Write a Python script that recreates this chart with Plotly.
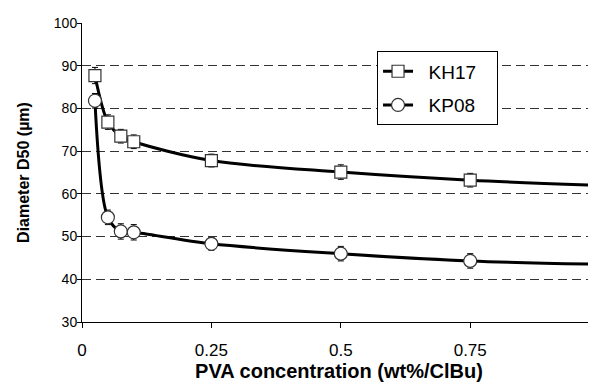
import plotly.graph_objects as go

conc = [0.025, 0.05, 0.075, 0.1, 0.25, 0.5, 0.75, 1.0]
kh17 = [87.7, 76.8, 73.5, 72.2, 67.8, 65.1, 63.2, 62.0]
kh17_err = [1.9, 1.7, 1.6, 1.6, 1.5, 1.7, 1.6, 1.5]
kp08 = [81.8, 54.5, 51.2, 51.0, 48.3, 46.0, 44.3, 43.5]
kp08_err = [1.7, 1.7, 1.8, 1.8, 1.5, 1.7, 1.7, 1.5]
series_names = ["KH17", "KP08"]

x_ticks = [0, 0.25, 0.5, 0.75]
x_ticklabels = ["0", "0.25", "0.5", "0.75"]
y_ticks = [30, 40, 50, 60, 70, 80, 90, 100]

font_family = "Liberation Sans, Arial, sans-serif"
NB = "\u00a0"

fig = go.Figure()

fig.add_trace(go.Scatter(
    x=conc, y=kh17, name=NB * 2 + series_names[0] + NB * 3,
    mode="lines+markers", legendgroup="a",
    line=dict(color="black", width=3, shape="spline", smoothing=0.9),
    marker=dict(symbol="square", size=12, color="white",
                line=dict(color="#333333", width=1.2)),
    error_y=dict(type="data", array=kh17_err, visible=True,
                 color="black", thickness=1, width=3),
    cliponaxis=False,
))
fig.add_trace(go.Scatter(
    x=conc, y=kp08, name=NB * 2 + series_names[1] + NB * 3,
    mode="lines+markers", legendgroup="b",
    line=dict(color="black", width=3, shape="spline", smoothing=0.9),
    marker=dict(symbol="circle", size=13, color="white",
                line=dict(color="#333333", width=1.2)),
    error_y=dict(type="data", array=kp08_err, visible=True,
                 color="black", thickness=1, width=3),
    cliponaxis=False,
))

# the page body has an 8px margin, so the figure is sized/offset to compensate
fig.update_layout(
    width=588, height=377,
    margin=dict(l=74, r=0, t=15, b=63),
    paper_bgcolor="white", plot_bgcolor="white",
    font=dict(family=font_family, color="black"),
    showlegend=True,
    legend=dict(
        x=0.574, y=0.905, xanchor="left", yanchor="top",
        bgcolor="white", bordercolor="black", borderwidth=1,
        font=dict(size=19, family=font_family),
        itemwidth=30, tracegroupgap=6,
    ),
    xaxis=dict(
        range=[0, 0.993],
        tickvals=x_ticks, ticktext=x_ticklabels,
        ticks="outside", ticklen=5, tickcolor="black", tickwidth=1,
        ticklabelstandoff=8,
        showline=True, linecolor="black", linewidth=1,
        showgrid=False, zeroline=False,
        tickfont=dict(size=17),
        title=dict(text="<b>PVA concentration (wt%/ClBu)</b>",
                   font=dict(size=20), standoff=4),
    ),
    yaxis=dict(
        range=[30, 100],
        tickvals=y_ticks,
        ticks="outside", ticklen=4, tickcolor="black", tickwidth=1,
        ticklabelstandoff=-3,
        showline=True, linecolor="black", linewidth=1,
        showgrid=True, gridcolor="#333333", gridwidth=1, griddash="9px,5px",
        zeroline=False,
        tickfont=dict(size=14),
        title=dict(text="<b>Diameter D50 (µm)</b>",
                   font=dict(size=16), standoff=20),
    ),
)

fig.write_html("out.html")
